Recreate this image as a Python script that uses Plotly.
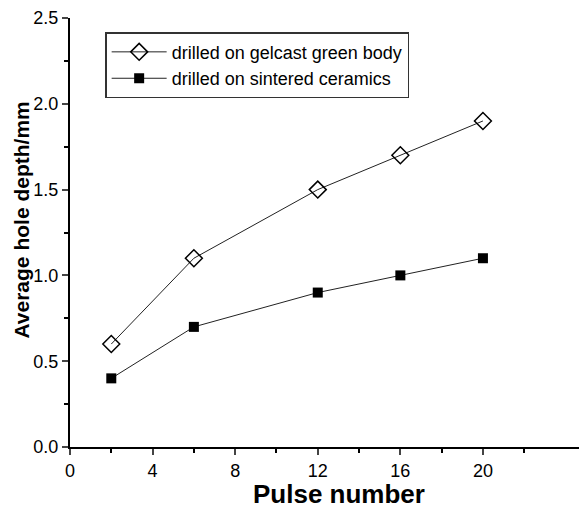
import plotly.graph_objects as go

pulse = [2, 6, 12, 16, 20]
green_body = [0.6, 1.1, 1.5, 1.7, 1.9]
sintered = [0.4, 0.7, 0.9, 1.0, 1.1]

FONT = "Liberation Sans, Arial, sans-serif"

fig = go.Figure()
fig.add_trace(go.Scatter(
    x=pulse, y=green_body, mode="lines+markers",
    name="drilled on gelcast green body",
    line=dict(color="#222", width=1),
    marker=dict(symbol="diamond-open", size=13, color="black", line=dict(width=1.5, color="black")),
))
fig.add_trace(go.Scatter(
    x=pulse, y=sintered, mode="lines+markers",
    name="drilled on sintered ceramics",
    line=dict(color="#222", width=1),
    marker=dict(symbol="square", size=10, color="black"),
))

# page body has an 8px default margin; compensate so the plot area sits at
# x 70..587, y 18..447 in the 587x513 window
fig.update_layout(
    width=579, height=505,
    margin=dict(l=62, r=0, t=10, b=66),
    plot_bgcolor="white", paper_bgcolor="white",
    font=dict(family=FONT, color="black", size=18),
    legend=dict(
        x=0.068, y=0.967, xanchor="left", yanchor="top",
        bordercolor="#333", borderwidth=1.5, bgcolor="white",
        font=dict(size=18, family=FONT), tracegroupgap=0,
        itemwidth=55,
    ),
    xaxis=dict(
        range=[0, 25.04], tickmode="array", tickvals=[0, 4, 8, 12, 16, 20],
        ticks="outside", ticklen=6, tickwidth=1.5, showgrid=False, zeroline=False,
        showline=True, linecolor="black", linewidth=2,
        minor=dict(tickvals=[2, 6, 10, 14, 18, 22], ticks="outside", ticklen=4, tickwidth=1.5, tickcolor="black"),
        tickfont=dict(size=18),
        automargin=False,
    ),
    yaxis=dict(
        range=[0, 2.5], tickmode="array", tickvals=[0, 0.5, 1.0, 1.5, 2.0, 2.5],
        ticktext=["0.0", "0.5", "1.0", "1.5", "2.0", "2.5"],
        ticks="outside", ticklen=6, tickwidth=1.5, showgrid=False, zeroline=False,
        showline=True, linecolor="black", linewidth=2,
        minor=dict(tickvals=[0.25, 0.75, 1.25, 1.75, 2.25], ticks="outside", ticklen=4, tickwidth=1.5, tickcolor="black"),
        tickfont=dict(size=18),
        automargin=False,
    ),
    annotations=[
        dict(text="<b>Pulse number</b>", xref="paper", yref="paper",
             x=0.52, y=-0.11, xanchor="center", yanchor="middle",
             showarrow=False, font=dict(size=26, family=FONT)),
        dict(text="<b>Average hole depth/mm</b>", xref="paper", yref="paper",
             x=-0.093, y=0.53, xanchor="center", yanchor="middle", textangle=-90,
             showarrow=False, font=dict(size=21, family=FONT)),
    ],
)

fig.write_html("out.html")
